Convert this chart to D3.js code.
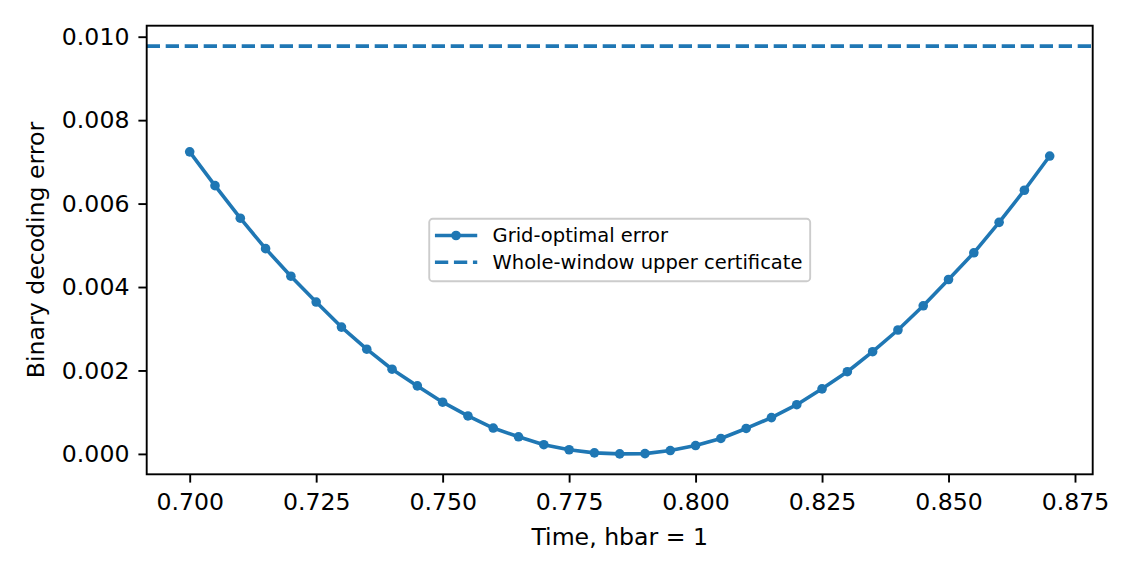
<!DOCTYPE html>
<html>
<head>
<meta charset="utf-8">
<script src="https://cdn.jsdelivr.net/npm/d3@7"></script>
<style>
  body { margin: 0; background: #fff; }
  text { font-family: "DejaVu Sans", sans-serif; }
</style>
</head>
<body>
<svg id="chart"></svg>
<script>
// time grid (hbar = 1)
const times = [0.700, 0.705, 0.710, 0.715, 0.720, 0.725, 0.730, 0.735, 0.740, 0.745,
               0.750, 0.755, 0.760, 0.765, 0.770, 0.775, 0.780, 0.785, 0.790, 0.795,
               0.800, 0.805, 0.810, 0.815, 0.820, 0.825, 0.830, 0.835, 0.840, 0.845,
               0.850, 0.855, 0.860, 0.865, 0.870]
// grid-optimal binary decoding error
const gridError = [0.00724, 0.00643, 0.00565, 0.00492, 0.00426, 0.00364, 0.00304, 0.00251, 0.00203, 0.00163,
                   0.00124, 0.00091, 0.00062, 0.00041, 0.00022, 0.00010, 0.000025, 0.0, 0.000007, 0.00008,
                   0.00020, 0.00037, 0.00061, 0.00087, 0.00118, 0.00156, 0.00197, 0.00245, 0.00297, 0.00355,
                   0.00418, 0.00482, 0.00555, 0.00632, 0.00714]
const upperCertificate = 0.009775
const xTicks = [0.700, 0.725, 0.750, 0.775, 0.800, 0.825, 0.850, 0.875]
const yTicks = [0.000, 0.002, 0.004, 0.006, 0.008, 0.010]
const legendLabels = ['Grid-optimal error', 'Whole-window upper certificate']

const width = 1137
const height = 577
const margin = { top: 25.7, right: 44.3, bottom: 102.7, left: 146.7 }
const w = width - margin.left - margin.right
const h = height - margin.top - margin.bottom
const blue = '#1f77b4'

const svg = d3.select('#chart')
              .attr('width', width)
              .attr('height', height)

const g = svg.append('g')
             .attr('transform', `translate(${margin.left},${margin.top})`)

// matplotlib-style 5% margins
const xMin = d3.min(times), xMax = d3.max(times)
const xPad = (xMax - xMin) * 0.05
const x = d3.scaleLinear()
            .domain([xMin - xPad, xMax + xPad])
            .range([0, w])

const yMin = d3.min(gridError), yMax = Math.max(d3.max(gridError), upperCertificate)
const yPad = (yMax - yMin) * 0.05
const y = d3.scaleLinear()
            .domain([yMin - yPad, yMax + yPad])
            .range([h, 0])

// dashed upper certificate
g.append('line')
 .attr('x1', 0)
 .attr('x2', w)
 .attr('y1', y(upperCertificate))
 .attr('y2', y(upperCertificate))
 .attr('stroke', blue)
 .attr('stroke-width', 3.6)
 .attr('stroke-dasharray', '13.3,5.7')

const line = d3.line()
               .x((d, i) => x(times[i]))
               .y(d => y(d))

g.append('path')
 .datum(gridError)
 .attr('d', line)
 .attr('fill', 'none')
 .attr('stroke', blue)
 .attr('stroke-width', 3.6)
 .attr('stroke-linejoin', 'round')

g.selectAll('.pt')
 .data(gridError)
 .join('circle')
 .attr('class', 'pt')
 .attr('cx', (d, i) => x(times[i]))
 .attr('cy', d => y(d))
 .attr('r', 4.8)
 .attr('fill', blue)

// axes
const xAxis = g.append('g')
               .attr('transform', `translate(0,${h})`)
               .call(d3.axisBottom(x).tickValues(xTicks).tickFormat(d3.format('.3f')).tickSize(8.3).tickPadding(11))
const yAxis = g.append('g')
               .call(d3.axisLeft(y).tickValues(yTicks).tickFormat(d3.format('.3f')).tickSize(8.3).tickPadding(9))

for (const ax of [xAxis, yAxis]) {
  ax.select('.domain').remove()
  ax.selectAll('.tick line').attr('stroke', '#000').attr('stroke-width', 1.9)
  ax.selectAll('.tick text').attr('fill', '#000').style('font-size', '23.6px')
}

g.append('rect')
 .attr('width', w)
 .attr('height', h)
 .attr('fill', 'none')
 .attr('stroke', '#000')
 .attr('stroke-width', 1.9)

svg.append('text')
   .attr('x', margin.left + w / 2)
   .attr('y', 545)
   .attr('text-anchor', 'middle')
   .style('font-size', '23.6px')
   .text('Time, hbar = 1')

svg.append('text')
   .attr('transform', `translate(44,${margin.top + h / 2}) rotate(-90)`)
   .attr('text-anchor', 'middle')
   .style('font-size', '23.6px')
   .text('Binary decoding error')

// legend, centred in the axes
const legend = g.append('g')
const fs = 19.5
const texts = legend.selectAll('text')
                    .data(legendLabels)
                    .join('text')
                    .attr('x', 63.3)
                    .style('font-size', fs + 'px')
                    .text(d => d)
const textW = d3.max(texts.nodes(), n => n.getComputedTextLength())
const lw = 63.3 + textW + 7.7
const lh = 62.4
legend.insert('rect', 'text')
      .attr('width', lw)
      .attr('height', lh)
      .attr('rx', 3.5)
      .attr('fill', '#fff')
      .attr('fill-opacity', 0.8)
      .attr('stroke', '#cccccc')
      .attr('stroke-width', 1.9)

legend.append('line')
      .attr('x1', 5.7).attr('x2', 48)
      .attr('y1', 16.7).attr('y2', 16.7)
      .attr('stroke', blue).attr('stroke-width', 3.6)
legend.append('circle')
      .attr('cx', 26.8).attr('cy', 16.7).attr('r', 4.8)
      .attr('fill', blue)
legend.append('line')
      .attr('x1', 5.7).attr('x2', 48)
      .attr('y1', 43.4).attr('y2', 43.4)
      .attr('stroke', blue).attr('stroke-width', 3.6)
      .attr('stroke-dasharray', '13.3,5.7')

legend.attr('transform', `translate(${(w - lw) / 2},${(h - lh) / 2})`)
texts.attr('y', (d, i) => 16.7 + i * 26.7 + 6.9)
</script>
</body>
</html>
